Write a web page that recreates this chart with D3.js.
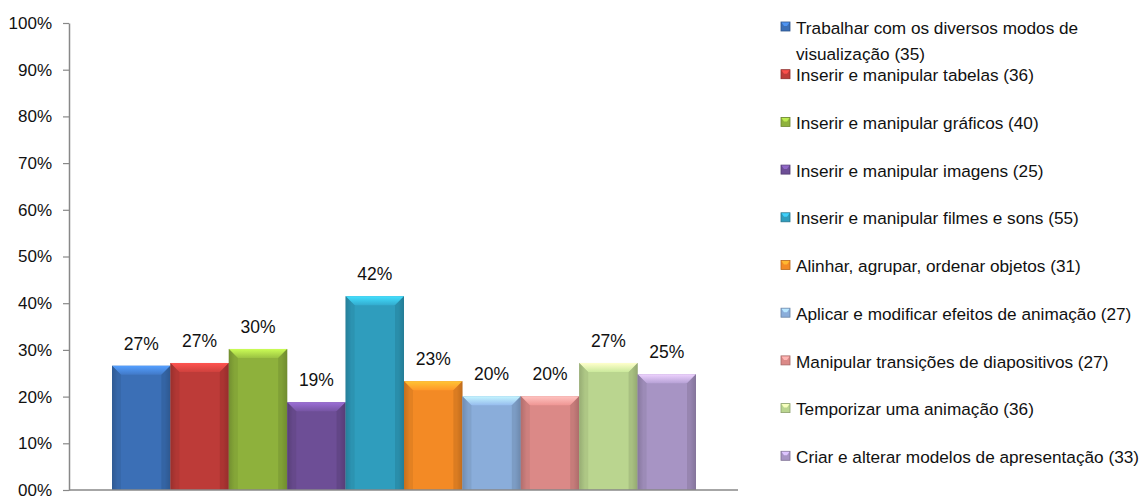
<!DOCTYPE html>
<html>
<head>
<meta charset="utf-8">
<script src="https://cdn.jsdelivr.net/npm/d3@7"></script>
<style>
  html, body { margin: 0; padding: 0; background: #fff; }
  svg { display: block; font-family: "Liberation Sans", Arial, sans-serif; }
</style>
</head>
<body>
<svg id="chart" width="1147" height="498"></svg>
<script>
// Competências avaliadas (legenda) e respetivas percentagens
const categories = [
  "Trabalhar com os diversos modos de visualização (35)",
  "Inserir e manipular tabelas (36)",
  "Inserir e manipular gráficos (40)",
  "Inserir e manipular imagens (25)",
  "Inserir e manipular filmes e sons (55)",
  "Alinhar, agrupar, ordenar objetos (31)",
  "Aplicar e modificar efeitos de animação (27)",
  "Manipular transições de diapositivos (27)",
  "Temporizar uma animação (36)",
  "Criar e alterar modelos de apresentação (33)"
];
const values = [0.266, 0.272, 0.302, 0.188, 0.415, 0.233, 0.201, 0.201, 0.272, 0.248];
const colors = ["#3B6FB6", "#BD3B38", "#8EB13C", "#6D4E96", "#2F9DBD",
                "#F38A25", "#8AADDA", "#DB8987", "#BAD58F", "#A794C4"];
const yTicks = [0, 0.1, 0.2, 0.3, 0.4, 0.5, 0.6, 0.7, 0.8, 0.9, 1.0];

const svg = d3.select("#chart");
const plot = { left: 69, right: 738, top: 23, bottom: 490 };

const y = d3.scaleLinear().domain([0, 1]).range([plot.bottom, plot.top]);
const x = d3.scaleBand().domain(d3.range(values.length))
  .range([112, 696]).paddingInner(0).paddingOuter(0);

// Gradients: darker at the side edges, lighter in the middle
const defs = svg.append("defs");
colors.forEach((c, i) => {
  const base = d3.color(c);
  const g = defs.append("linearGradient").attr("id", "bar" + i)
    .attr("x1", 0).attr("x2", 1).attr("y1", 0).attr("y2", 0);
  g.append("stop").attr("offset", 0).attr("stop-color", base.darker(0.9));
  g.append("stop").attr("offset", 0.1).attr("stop-color", base);
  g.append("stop").attr("offset", 0.9).attr("stop-color", base);
  g.append("stop").attr("offset", 1).attr("stop-color", base.darker(0.9));
  const t = defs.append("linearGradient").attr("id", "top" + i)
    .attr("x1", 0).attr("x2", 0).attr("y1", 0).attr("y2", 1);
  t.append("stop").attr("offset", 0).attr("stop-color", base.brighter(1.0));
  t.append("stop").attr("offset", 1).attr("stop-color", base.brighter(0.25));
});

// Y axis
const yAxis = d3.axisLeft(y).tickValues(yTicks)
  .tickFormat(d => d === 0 ? "00%" : d3.format(".0%")(d))
  .tickSize(6).tickSizeOuter(0);
const ya = svg.append("g").attr("transform", `translate(${plot.left},0)`).call(yAxis);
ya.attr("font-size", null).attr("font-family", null);
ya.select(".domain").attr("stroke", "#888").attr("stroke-width", 1.5);
ya.selectAll(".tick line").attr("stroke", "#888").attr("stroke-width", 1.2);
ya.selectAll(".tick text").attr("fill", "#111").style("font-size", "17px")
  .attr("x", -17);

// Bars
const bars = svg.append("g").selectAll("g.bar").data(values).join("g").attr("class", "bar");
const bev = 9;
bars.append("rect")
  .attr("x", (d, i) => x(i))
  .attr("y", d => y(d))
  .attr("width", x.bandwidth())
  .attr("height", d => y(0) - y(d))
  .attr("fill", (d, i) => `url(#bar${i})`);
// top bevel
bars.append("path")
  .attr("d", (d, i) => {
    const x0 = x(i), x1 = x(i) + x.bandwidth(), t = y(d);
    return `M${x0},${t}L${x1},${t}L${x1 - bev},${t + bev}L${x0 + bev},${t + bev}Z`;
  })
  .attr("fill", (d, i) => `url(#top${i})`);
// side bevels
bars.append("path")
  .attr("d", (d, i) => {
    const x0 = x(i), t = y(d), b = y(0);
    return `M${x0},${t}L${x0 + bev},${t + bev}L${x0 + bev},${b}L${x0},${b}Z`;
  })
  .attr("fill", (d, i) => d3.color(colors[i]).darker(0.35)).attr("opacity", 0.55);
bars.append("path")
  .attr("d", (d, i) => {
    const x1 = x(i) + x.bandwidth(), t = y(d), b = y(0);
    return `M${x1},${t}L${x1 - bev},${t + bev}L${x1 - bev},${b}L${x1},${b}Z`;
  })
  .attr("fill", (d, i) => d3.color(colors[i]).darker(0.5)).attr("opacity", 0.6);

// Value labels
bars.append("text")
  .attr("x", (d, i) => x(i) + x.bandwidth() / 2)
  .attr("y", d => y(d) - 16)
  .attr("text-anchor", "middle")
  .style("font-size", "17.5px")
  .attr("fill", "#111")
  .text(d => Math.round(d * 100) + "%");

// X axis baseline
svg.append("line")
  .attr("x1", plot.left).attr("x2", plot.right)
  .attr("y1", y(0)).attr("y2", y(0))
  .attr("stroke", "#888").attr("stroke-width", 1.5);

// Legend
const legend = svg.append("g").attr("transform", "translate(781,0)");
const maxW = 355;
categories.forEach((c, i) => {
  const row = legend.append("g").attr("transform", `translate(0,${28 + i * 47.7})`);
  const base = d3.color(colors[i]);
  row.append("rect").attr("x", 0).attr("y", -6).attr("width", 9).attr("height", 9)
    .attr("fill", base).attr("stroke", base.darker(0.8)).attr("stroke-width", 0.8);
  row.append("path").attr("d", "M0.5,-5.5L8.5,-5.5L6,-2L3,-2Z").attr("fill", base.brighter(0.8));
  const txt = row.append("text").attr("x", 15).attr("y", 0)
    .style("font-size", "17.2px").attr("fill", "#111");
  // word wrap
  const words = c.split(" ");
  let line = [], tspan = txt.append("tspan").attr("x", 15).attr("dy", "0.33em");
  words.forEach(w => {
    line.push(w);
    tspan.text(line.join(" "));
    if (tspan.node().getComputedTextLength() > maxW && line.length > 1) {
      line.pop();
      tspan.text(line.join(" "));
      line = [w];
      tspan = txt.append("tspan").attr("x", 15).attr("dy", "1.52em").text(w);
    }
  });
});
</script>
</body>
</html>
